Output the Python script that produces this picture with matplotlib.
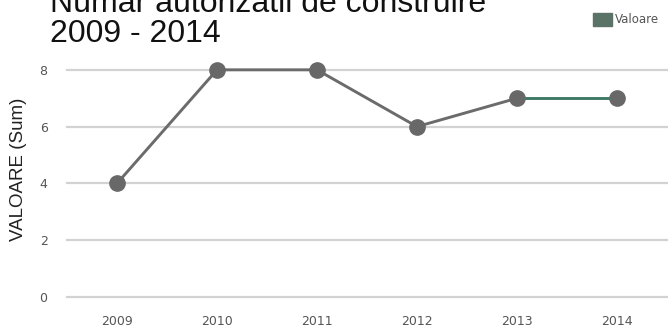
import matplotlib.pyplot as plt
from matplotlib.patches import Patch

# data
years = ['2009', '2010', '2011', '2012', '2013', '2014']
values = [4, 8, 8, 6, 7, 7]
yticks = [0, 2, 4, 6, 8]

title_top = 'Numar autorizatii de construire'
title_bottom = '2009 - 2014'

LINE_GRAY = '#6b6b6b'
LINE_GREEN = '#3f7a66'

fig = plt.figure(figsize=(6.68, 3.27), dpi=100)
ax = fig.add_axes([67 / 668, 30 / 327, 600 / 668, 255 / 327])

x = list(range(len(years)))
# last segment is drawn in the greenish tone as in the picture
ax.plot(x[:-1], values[:-1], color=LINE_GRAY, lw=2.1, zorder=3)
ax.plot(x[-2:], values[-2:], color=LINE_GREEN, lw=2.1, zorder=3)
ax.plot(x, values, ls='none', marker='o', ms=11, color='#686868',
        markeredgecolor='#686868', zorder=4)

ax.set_xlim(-0.5, len(years) - 0.5)
ax.set_ylim(0, 8.98)
ax.set_yticks(yticks)
ax.set_xticks(x)
ax.set_xticklabels(years)

for t in yticks:
    ax.axhline(t, color='#d2d2d2', lw=1.6, zorder=1, clip_on=False)

for s in ax.spines.values():
    s.set_visible(False)
ax.tick_params(length=0, labelsize=9, labelcolor='#555555')
ax.tick_params(axis='x', pad=13)
ax.tick_params(axis='y', pad=14)

ax.set_ylabel('VALOARE (Sum)', fontsize=13.5, family='Liberation Sans',
              color='#222222', labelpad=9)

fig.text(50 / 668, 1 - 12 / 327, title_top, fontsize=23,
         family='Liberation Sans', color='#111111', va='baseline')
fig.text(50 / 668, 1 - 42 / 327, title_bottom, fontsize=23,
         family='Liberation Sans', color='#111111', va='baseline')

leg = fig.legend(handles=[Patch(facecolor='#5b7366', edgecolor='#5b7366', label='Valoare')],
                 loc='upper right', bbox_to_anchor=(664 / 668, 1 - 8 / 327),
                 frameon=False, fontsize=8.5, handlelength=1.6, handleheight=1.3,
                 handletextpad=0.3, borderaxespad=0)
for t in leg.get_texts():
    t.set_color('#555555')

fig.savefig('out.png', dpi=100)
